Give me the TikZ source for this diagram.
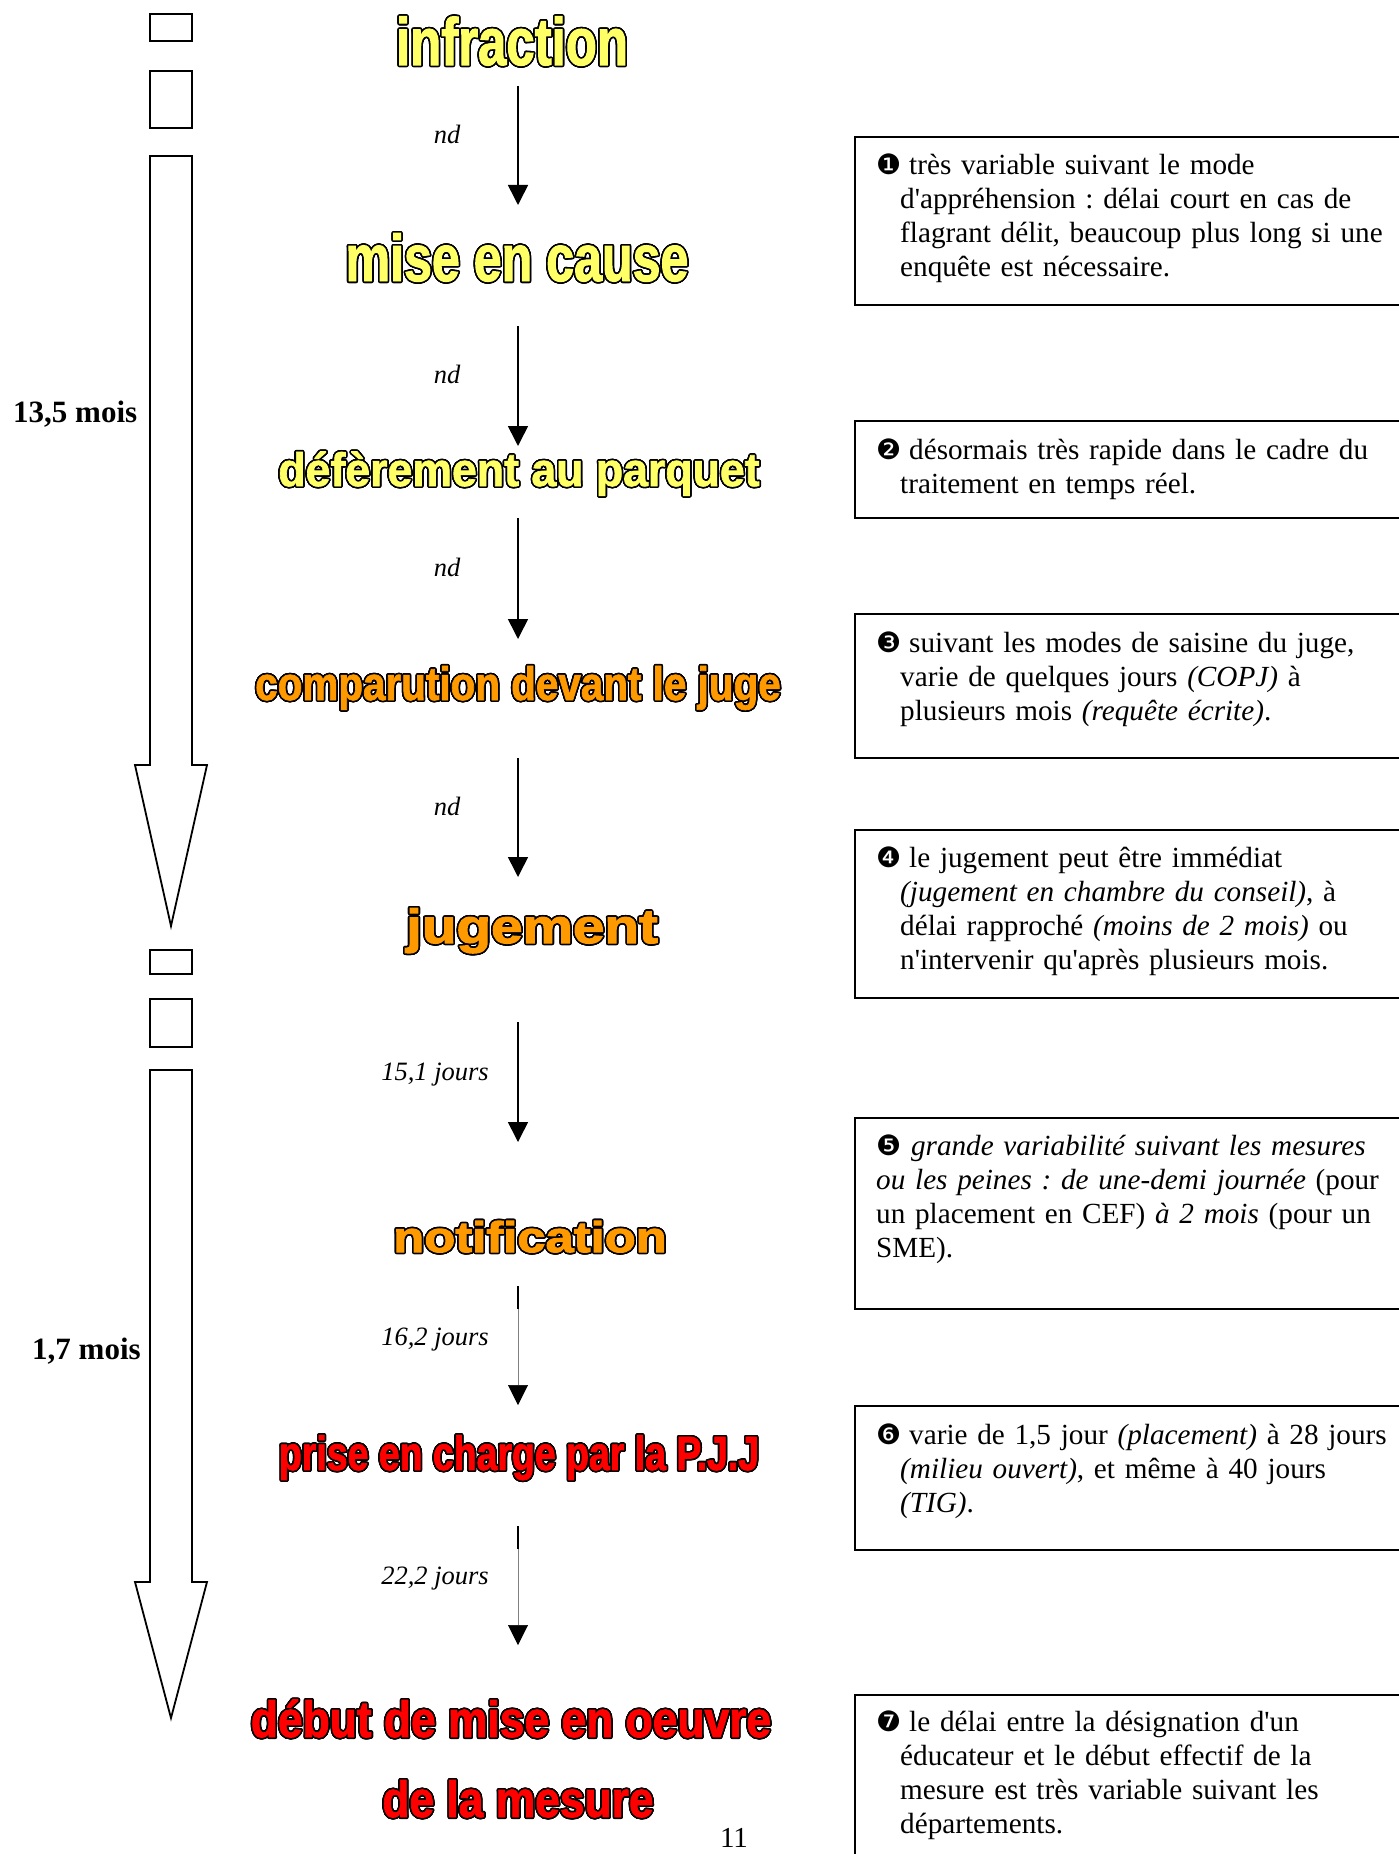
\documentclass[tikz,border=0pt]{standalone}
\usepackage{fontspec}
\setmainfont{Liberation Serif}
\newfontface\fA{Liberation Sans Bold}[FakeStretch=0.76,FakeBold=1.5]
\newfontface\fB{Liberation Sans Bold}[FakeStretch=0.95,FakeBold=1.5]
\newfontface\fC{Liberation Sans Bold}[FakeStretch=0.86,FakeBold=1.5]
\newfontface\fD{Liberation Sans Bold}[FakeStretch=0.78,FakeBold=1.5]
\newfontface\fE{Liberation Sans Bold}[FakeStretch=0.87,FakeBold=1.5]
\newfontface\fW{Liberation Sans Bold}[FakeStretch=1.18,FakeBold=2.5]
\newfontfamily\dejavu{DejaVu Sans}
\usepackage[copies]{contour}
\contourlength{1.6pt}
\contournumber{24}
\usetikzlibrary{arrows.meta}
\frenchspacing
\definecolor{tyellow}{HTML}{FFFF66}
\definecolor{torange}{HTML}{FF9900}
\definecolor{tred}{HTML}{FF0000}
\newcommand{\ttltxt}[2]{\textcolor{#1}{\contour{black}{#2}}}
\newcommand{\bulglyph}[1]{{\dejavu\fontsize{28}{28}\selectfont #1}}
\newcommand{\bul}[1]{\hspace*{-24pt}\makebox[33pt][l]{\rule{0pt}{24pt}\bulglyph{#1}}}
\newcommand{\qq}{\textquotesingle}
\tikzset{
  ttl/.style={anchor=base, inner sep=0pt},
  flow/.style={line width=1.6pt, -{Triangle[width=20pt,length=20pt]}},
  faint/.style={line width=0.6pt, draw=gray, -{Triangle[width=20pt,length=20pt,color=black]}},
  stub/.style={line width=1.6pt},
  hollow/.style={draw=black, line width=1.8pt, fill=white, line join=miter},
  note/.style={draw=black, line width=1.8pt},
  notetext/.style={anchor=north west, inner sep=0pt, text width=490pt, align=left, font=\fontsize{29.2}{34}\selectfont},
  lab/.style={anchor=base, inner sep=0pt, font=\fontsize{26.5}{30}\selectfont\itshape},
  dur/.style={anchor=base west, inner sep=0pt, font=\fontsize{31}{34}\selectfont\bfseries},
}
\begin{document}
\begin{tikzpicture}[x=1pt,y=-1pt]
\useasboundingbox (0,0) rectangle (1399,1854);
\clip (0,0) rectangle (1399,1854);

% left timeline
\draw[hollow] (150,14) rectangle (192,41);
\draw[hollow] (150,71) rectangle (192,128);
\draw[hollow] (150,156) -- (192,156) -- (192,765) -- (207,765) -- (171,926) -- (135,765) -- (150,765) -- cycle;
\draw[hollow] (150,950) rectangle (192,974);
\draw[hollow] (150,999) rectangle (192,1047);
\draw[hollow] (150,1070) -- (192,1070) -- (192,1582) -- (207,1582) -- (171,1718) -- (135,1582) -- (150,1582) -- cycle;
\node[dur] (d1) at (13,422) {13,5 mois};
\node[dur] (d2) at (32,1359) {1,7 mois};

% titles
\node[ttl, font=\fA\fontsize{67}{72}\selectfont] (t1) at (512,65) {\ttltxt{tyellow}{infraction}};
\node[ttl, font=\fA\fontsize{66}{72}\selectfont] (t2) at (517,281) {\ttltxt{tyellow}{mise en cause}};
\node[ttl, font=\fB\fontsize{47}{52}\selectfont] (t3) at (519,486) {\ttltxt{tyellow}{défèrement au parquet}};
\node[ttl, font=\fC\fontsize{47}{52}\selectfont] (t4) at (518,700) {\ttltxt{torange}{comparution devant le juge}};
\node[ttl, font=\fW\fontsize{48}{52}\selectfont] (t5) at (532,943) {\ttltxt{torange}{jugement}};
\node[ttl, font=\fW\fontsize{43}{48}\selectfont] (t6) at (530,1252) {\ttltxt{torange}{notification}};
\node[ttl, font=\fD\fontsize{48}{52}\selectfont] (t7) at (519,1470) {\ttltxt{tred}{prise en charge par la P.J.J}};
\node[ttl, font=\fE\fontsize{51}{56}\selectfont] (t8) at (511,1737) {\ttltxt{tred}{début de mise en oeuvre}};
\node[ttl, font=\fE\fontsize{51}{56}\selectfont] (t9) at (518,1817) {\ttltxt{tred}{de la mesure}};

% connectors
\coordinate (a1s) at (518,86);   \coordinate (a1e) at (518,205);
\coordinate (a2s) at (518,326);  \coordinate (a2e) at (518,446);
\coordinate (a3s) at (518,518);  \coordinate (a3e) at (518,639);
\coordinate (a4s) at (518,758);  \coordinate (a4e) at (518,877);
\coordinate (a5s) at (518,1022); \coordinate (a5e) at (518,1142);
\coordinate (a6s) at (518,1286); \coordinate (a6m) at (518,1309); \coordinate (a6e) at (518,1405);
\coordinate (a7s) at (518,1526); \coordinate (a7m) at (518,1549); \coordinate (a7e) at (518,1645);
\draw[flow] (a1s) -- (a1e);
\draw[flow] (a2s) -- (a2e);
\draw[flow] (a3s) -- (a3e);
\draw[flow] (a4s) -- (a4e);
\draw[flow] (a5s) -- (a5e);
\draw[stub] (a6s) -- (a6m);
\draw[faint] (a6m) -- (a6e);
\draw[stub] (a7s) -- (a7m);
\draw[faint] (a7m) -- (a7e);

\node[lab] (l1) at (447,144) {nd};
\node[lab] (l2) at (447,383) {nd};
\node[lab] (l3) at (447,576) {nd};
\node[lab] (l4) at (447,815) {nd};
\node[lab] (l5) at (435,1080) {15,1 jours};
\node[lab] (l6) at (435,1345) {16,2 jours};
\node[lab] (l7) at (435,1584) {22,2 jours};

% note boxes
\draw[note] (855,137) rectangle (1430,305);
\draw[note] (855,421) rectangle (1430,518);
\draw[note] (855,614) rectangle (1430,758);
\draw[note] (855,830) rectangle (1430,998);
\draw[note] (855,1118) rectangle (1430,1309);
\draw[note] (855,1406) rectangle (1430,1550);
\draw[note] (855,1695) rectangle (1430,1900);

\node[notetext] (n1) at (900,150) {\bul{❶}très variable suivant le mode\\
d\qq appréhension : délai court en cas de\\
flagrant délit, beaucoup plus long si une\\
enquête est nécessaire.};
\node[notetext] (n2) at (900,435) {\bul{❷}désormais très rapide dans le cadre du\\
traitement en temps réel.};
\node[notetext] (n3) at (900,628) {\bul{❸}suivant les modes de saisine du juge,\\
varie de quelques jours \textit{(COPJ)} à\\
plusieurs mois \textit{(requête écrite)}.};
\node[notetext] (n4) at (900,843) {\bul{❹}le jugement peut être immédiat\\
\textit{(jugement en chambre du conseil)}, à\\
délai rapproché \textit{(moins de 2 mois)} ou\\
n\qq intervenir qu\qq après plusieurs mois.};
\node[notetext, text width=515pt] (n5) at (876,1131) {\makebox[511pt][s]{\rule{0pt}{24pt}\bulglyph{❺} \textit{grande variabilité suivant les mesures}}\\
\makebox[511pt][s]{\textit{ou les peines : de une-demi journée} (pour}\\
\makebox[511pt][s]{un placement en CEF) \textit{à 2 mois} (pour un}\\
SME).};
\node[notetext] (n6) at (900,1420) {\bul{❻}varie de 1,5 jour \textit{(placement)} à 28 jours\\
\textit{(milieu ouvert)}, et même à 40 jours\\
\textit{(TIG)}.};
\node[notetext] (n7) at (900,1707) {\bul{❼}le délai entre la désignation d\qq un\\
éducateur et le début effectif de la\\
mesure est très variable suivant les\\
départements.};

\node[anchor=base, inner sep=0pt, font=\fontsize{29}{30}\selectfont] (pg) at (734,1847) {11};
\end{tikzpicture}
\end{document}
